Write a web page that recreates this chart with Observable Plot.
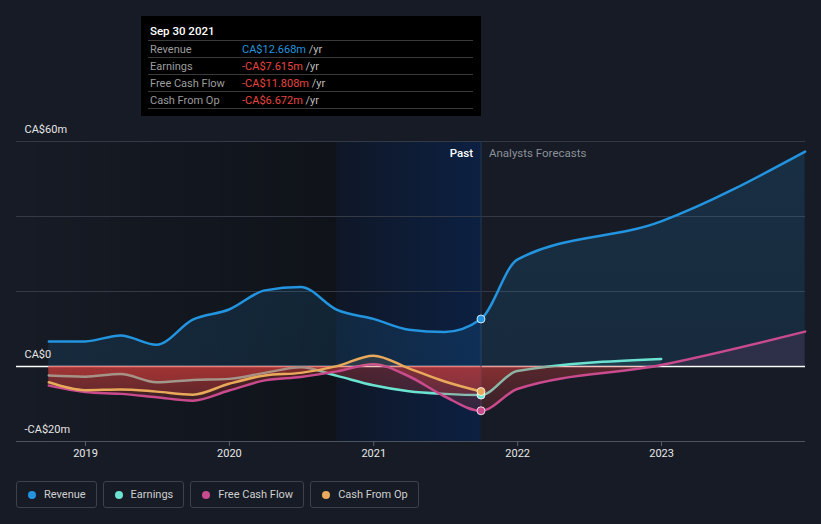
<!DOCTYPE html>
<html><head><meta charset="utf-8">
<script src="https://cdn.jsdelivr.net/npm/d3@7"></script>
<script src="https://cdn.jsdelivr.net/npm/@observablehq/plot@0.6"></script>
<style>
html,body{margin:0;padding:0;background:#161b25;font-family:Roboto,sans-serif;}
#wrap{position:relative;width:821px;height:524px;overflow:hidden;background:#161b25;}
#chart{position:absolute;left:0;top:0;}
#tip{position:absolute;left:141px;top:16px;width:340px;height:100px;background:#000;color:#fff;font-size:11px;}
#tip .title{position:absolute;left:9px;top:8px;font-size:11.5px;font-weight:500;color:#fff;}
#tip .row{position:absolute;left:7px;right:8px;height:16px;line-height:17px;border-top:1px solid #3a3a3a;}
#tip .row.last{border-bottom:1px solid #3a3a3a;}
#tip .lab{position:absolute;left:2px;color:#9c9c9c;}
#tip .val{position:absolute;left:94px;}
#tip .unit{color:#bdbdbd;}
#legend{position:absolute;left:16px;top:481px;display:flex;gap:6px;}
#legend .item{box-sizing:border-box;height:27px;border:1px solid #3b414d;border-radius:3px;padding:0 10px 0 11px;display:flex;align-items:center;font-size:11px;color:#cfcfcf;}
#legend .dot{width:8px;height:8px;border-radius:50%;margin-right:8px;}
</style></head>
<body><div id="wrap"><div id="chart"></div><div id="tip"></div><div id="legend"></div></div>
<script>
// ---- data (CA$ millions) ----
const pastDates = ["2018-09-30","2018-12-31","2019-03-31","2019-06-30","2019-09-30","2019-12-31","2020-03-31","2020-06-30","2020-09-30","2020-12-31","2021-03-31","2021-06-30","2021-09-30"];
const revenuePast  = [6.7, 6.7, 8.3, 5.8, 12.5, 15.2, 20.3, 21.2, 15.1, 12.7, 9.8, 9.2, 12.668];
const earningsPast = [-2.4, -2.7, -2.0, -4.2, -3.6, -3.3, -1.7, -0.2, -2.5, -5.0, -6.6, -7.3, -7.615];
const fcfPast      = [-5.1, -6.8, -7.3, -8.2, -9.1, -6.4, -3.7, -2.8, -1.3, 0.6, -2.6, -8.0, -11.808];
const cfoPast      = [-4.2, -6.3, -6.1, -6.7, -7.5, -4.6, -2.4, -1.7, 0.1, 2.9, -0.5, -4.0, -6.672];
const forecastDates = ["2021-12-31","2022-12-31","2023-12-31"];
const revenueForecast  = [28.5, 38.7, 57.3];
const earningsForecast = [-1.2, 2.0];
const fcfForecast      = [-6.0, 0.4, 9.3];
const cfoForecast      = [];
const seriesNames  = ["Revenue","Earnings","Free Cash Flow","Cash From Op"];
const seriesKeys   = ["rev","earn","fcf","cfo"];
const seriesColors = ["#2394df","#6ce3d0","#c94b8d","#e8aa5a"];
const tipTitle = "Sep 30 2021";
const tipLabels = ["Revenue","Earnings","Free Cash Flow","Cash From Op"];
const tipValues = ["CA$12.668m","-CA$7.615m","-CA$11.808m","-CA$6.672m"];
const yTicks = [60, 0, -20];
const yTickLabels = ["CA$60m","CA$0","-CA$20m"];
const gridValues = [20, 40, 60];
const xTickYears = ["2019","2020","2021","2022","2023"];
const pastLabel = "Past", forecastLabel = "Analysts Forecasts";
const bandStart = "2020-09-30", nowDate = "2021-09-30";
const domainStart = "2018-07-10", domainEnd = "2024-01-01";

const parse = s => new Date(s + "T00:00:00Z");
function build(pastVals, fcVals) {
  const a = pastVals.map((v, i) => ({date: parse(pastDates[i]), value: v}));
  fcVals.forEach((v, i) => a.push({date: parse(forecastDates[i]), value: v}));
  return a;
}
const series = [
  build(revenuePast, revenueForecast),
  build(earningsPast, earningsForecast),
  build(fcfPast, fcfForecast),
  build(cfoPast, cfoForecast)
];
const nowPoints = [revenuePast, earningsPast, fcfPast, cfoPast].map((arr, i) => ({date: parse(nowDate), value: arr[arr.length - 1], color: seriesColors[i]}));

const marks = [
  Plot.rectY([0], {x1: parse(domainStart), x2: parse(bandStart), y1: -20, y2: 60, fill: "url(#g-dark)"}),
  Plot.rectY([0], {x1: parse(bandStart), x2: parse(nowDate), y1: -20, y2: 60, fill: "url(#g-band)"}),
  Plot.ruleY(gridValues, {stroke: "#333a45", strokeWidth: 1}),
  Plot.ruleY([-20], {stroke: "#4d535e", strokeWidth: 1}),
  Plot.ruleY([0], {stroke: "#ffffff", strokeWidth: 1.3}),
  Plot.ruleX([parse(nowDate)], {y1: -20, y2: 60, insetTop: -26, stroke: "#1f3556", strokeWidth: 1.2})
];
series.forEach((d, i) => {
  marks.push(Plot.areaY(d, {x: "date", y1: 0, y2: "value", fill: `url(#g-${seriesKeys[i]})`, curve: "monotone-x"}));
  marks.push(Plot.lineY(d, {x: "date", y: "value", stroke: seriesColors[i], strokeWidth: 2.5, curve: "monotone-x"}));
});
marks.push(Plot.dot(nowPoints, {x: "date", y: "value", fill: "color", r: 4, stroke: "#ffffff", strokeOpacity: 0.8, strokeWidth: 1}));
marks.push(Plot.text(yTicks, {x: parse(domainStart), y: d => d, text: (d, i) => yTickLabels[i], dx: 8, dy: -12, textAnchor: "start", fill: "#e6e6e6", fontSize: 11}));
marks.push(Plot.text([pastLabel], {x: parse(nowDate), y: 60, dx: -8, dy: 12, textAnchor: "end", fill: "#ffffff", fontSize: 11.5, fontWeight: 500}));
marks.push(Plot.text([forecastLabel], {x: parse(nowDate), y: 60, dx: 8, dy: 12, textAnchor: "start", fill: "#8b9099", fontSize: 11.5}));
marks.push(Plot.axisX({ticks: xTickYears.map(y => parse(y + "-01-01")), tickFormat: d3.utcFormat("%Y"), tickSize: 5, tickPadding: 3, stroke: "#5a606b", fill: "#e8e8e8", fontSize: 11, label: null}));

const plot = Plot.plot({
  width: 821, height: 470,
  marginTop: 141, marginBottom: 29, marginLeft: 16, marginRight: 16,
  x: {type: "utc", domain: [parse(domainStart), parse(domainEnd)]},
  y: {domain: [-20, 60], axis: null},
  style: {background: "transparent", fontFamily: "Roboto, sans-serif", fontSize: "11px", overflow: "visible"},
  marks
});

// gradients built from the plot's own scales
const ys = plot.scale("y"), xs = plot.scale("x");
const svg = d3.select(plot);
const defs = svg.insert("defs", ":first-child");
const yTop = ys.apply(60), yBot = ys.apply(-20), yZero = ys.apply(0);
const fz = (yZero - yTop) / (yBot - yTop);
const posOpacity = {rev: 0.13, earn: 0.1, fcf: 0.12, cfo: 0.12};
seriesKeys.forEach((k, i) => {
  const g = defs.append("linearGradient").attr("id", "g-" + k).attr("gradientUnits", "userSpaceOnUse")
    .attr("x1", 0).attr("x2", 0).attr("y1", yTop).attr("y2", yBot);
  g.append("stop").attr("offset", 0).attr("stop-color", seriesColors[i]).attr("stop-opacity", posOpacity[k] + 0.03);
  g.append("stop").attr("offset", fz).attr("stop-color", seriesColors[i]).attr("stop-opacity", posOpacity[k]);
  g.append("stop").attr("offset", fz).attr("stop-color", "#e0403c").attr("stop-opacity", 0.32);
  g.append("stop").attr("offset", 1).attr("stop-color", "#e0403c").attr("stop-opacity", 0.08);
});
const xb0 = xs.apply(parse(bandStart)), xb1 = xs.apply(parse(nowDate)), xd0 = xs.apply(parse(domainStart));
const gb = defs.append("linearGradient").attr("id", "g-band").attr("gradientUnits", "userSpaceOnUse")
  .attr("x1", xb0).attr("x2", xb1).attr("y1", 0).attr("y2", 0);
gb.append("stop").attr("offset", 0).attr("stop-color", "#0f1727");
gb.append("stop").attr("offset", 1).attr("stop-color", "#0c2042");
const gd = defs.append("linearGradient").attr("id", "g-dark").attr("gradientUnits", "userSpaceOnUse")
  .attr("x1", xd0).attr("x2", xb0).attr("y1", 0).attr("y2", 0);
gd.append("stop").attr("offset", 0).attr("stop-color", "#000").attr("stop-opacity", 0);
gd.append("stop").attr("offset", 1).attr("stop-color", "#000").attr("stop-opacity", 0.32);

document.getElementById("chart").appendChild(plot);

// tooltip
const tip = document.getElementById("tip");
let html = `<div class="title">${tipTitle}</div>`;
tipLabels.forEach((l, i) => {
  const col = tipValues[i].startsWith("-") ? "#e8453f" : seriesColors[0];
  html += `<div class="row${i === tipLabels.length - 1 ? " last" : ""}" style="top:${24 + i * 17}px"><span class="lab">${l}</span><span class="val"><span style="color:${col}">${tipValues[i]}</span> <span class="unit">/yr</span></span></div>`;
});
tip.innerHTML = html;

// legend
const lg = document.getElementById("legend");
seriesNames.forEach((n, i) => {
  const it = document.createElement("div");
  it.className = "item";
  it.innerHTML = `<span class="dot" style="background:${seriesColors[i]}"></span><span>${n}</span>`;
  lg.appendChild(it);
});
</script></body></html>
